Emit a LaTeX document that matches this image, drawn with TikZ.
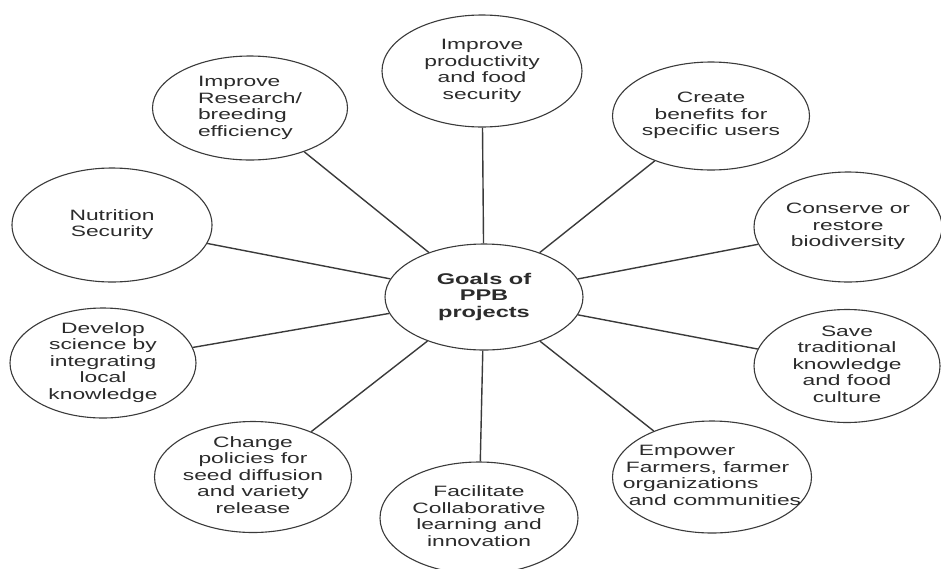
\documentclass[tikz,border=0pt]{standalone}
\usepackage{fontspec}
\setmainfont{Liberation Sans}
\usepackage{graphicx}
\usetikzlibrary{shapes.geometric}
\definecolor{vien}{HTML}{3A3A3A}
\definecolor{chu}{HTML}{2B2B2B}
\newcommand{\goaltext}[2][c]{\makebox[0pt]{\raisebox{-0.25em}[0pt][0pt]{\scalebox{1.52}[1]{\begin{tabular}[c]{@{}#1@{}}#2\end{tabular}}}}}

\begin{document}
\begin{tikzpicture}[x=1pt,y=-1pt,
	goal/.style={ellipse,draw=vien,line width=1.1pt,fill=white,inner sep=0pt,text=chu,font=\fontsize{15}{16.5}\selectfont},
	spoke/.style={draw=vien,line width=1.4pt}]
			\useasboundingbox (0,0) rectangle (941,568);
			\node[goal,minimum width=198pt,minimum height=106pt,font=\fontsize{15.5}{16.5}\selectfont\bfseries] (goals) at (484,297) {\goaltext{Goals of\\PPB\\projects}};
			\node[goal,minimum width=200pt,minimum height=112pt] (prod) at (482,71) {\goaltext{Improve\\productivity\\and food\\security}};
			\node[goal,minimum width=195pt,minimum height=104pt] (research) at (250,108) {\goaltext[l]{Improve\\Research/\\breeding\\efficiency}};
			\node[goal,minimum width=197pt,minimum height=108pt] (benefits) at (711,116) {\goaltext{Create\\benefits for\\specific users}};
			\node[goal,minimum width=188pt,minimum height=110pt] (conserve) at (848,227) {\goaltext{Conserve or\\restore\\biodiversity}};
			\node[goal,minimum width=186pt,minimum height=113pt] (save) at (847,366) {\goaltext{Save\\traditional\\knowledge\\and food\\culture}};
			\node[goal,minimum width=199pt,minimum height=112pt] (empower) at (712,477) {\goaltext[l]{\hspace{0.7em}Empower\\\hspace{0.13em}Farmers, farmer\\organizations\\\hspace{0.26em}and communities}};
			\node[goal,minimum width=198pt,minimum height=112pt] (facilitate) at (479,518) {\goaltext{Facilitate\\Collaborative\\learning and\\innovation}};
			\node[goal,minimum width=197pt,minimum height=111pt] (policies) at (253,477) {\goaltext{Change\\policies for\\seed diffusion\\and variety\\release}};
			\node[goal,minimum width=186pt,minimum height=110pt] (develop) at (103,363) {\goaltext{Develop\\science by\\integrating\\local\\knowledge}};
			\node[goal,minimum width=200pt,minimum height=114pt] (nutrition) at (112,225) {\goaltext{Nutrition\\Security}};
			\draw[spoke] (goals) -- (prod);
			\draw[spoke] (goals) -- (research);
			\draw[spoke] (goals) -- (benefits);
			\draw[spoke] (goals) -- (conserve);
			\draw[spoke] (goals) -- (save);
			\draw[spoke] (goals) -- (empower);
			\draw[spoke] (goals) -- (facilitate);
			\draw[spoke] (goals) -- (policies);
			\draw[spoke] (goals) -- (develop);
			\draw[spoke] (goals) -- (nutrition);
		\end{tikzpicture}
\end{document}
